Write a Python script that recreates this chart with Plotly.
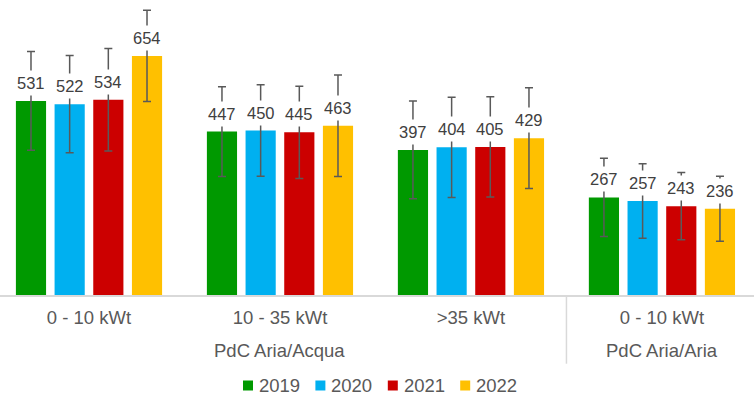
import plotly.graph_objects as go

# --- data ---
classes = ["0 - 10 kWt", "10 - 35 kWt", ">35 kWt", "0 - 10 kWt"]
group_names = ["PdC Aria/Acqua", "PdC Aria/Aria"]
group_members = [[0, 1, 2], [3]]
years = ["2019", "2020", "2021", "2022"]
values = {
    "2019": [531, 447, 397, 267],
    "2020": [522, 450, 404, 257],
    "2021": [534, 445, 405, 243],
    "2022": [654, 463, 429, 236],
}
errors = {
    "2019": [135, 123, 134, 107],
    "2020": [133, 125, 137, 102],
    "2021": [140, 126, 137, 92],
    "2022": [125, 139, 138, 89],
}
colors = {"2019": "#009900", "2020": "#00B0F0", "2021": "#CC0000", "2022": "#FFC000"}

font = "Liberation Sans, Arial, sans-serif"
gray = "#595959"
W, H, B = 754, 396, 101
plot_h = H - B
bargap = 0.19
bargroupgap = 0.22
idx = list(range(len(classes)))

fig = go.Figure()
for yr in years:
    fig.add_trace(go.Bar(
        x=idx, y=values[yr], name=yr, showlegend=False,
        marker=dict(color=colors[yr], line=dict(width=0)),
        error_y=dict(type="data", array=errors[yr], color=gray, thickness=1.5, width=4),
        hovertext=classes, hoverinfo="text+y+name",
    ))

# value labels with white box (hides the error bar behind them, like Excel)
slot = (1 - bargap) / len(years)
for j, yr in enumerate(years):
    off = -(1 - bargap) / 2 + slot * (j + 0.5)
    for i, v in zip(idx, values[yr]):
        fig.add_annotation(x=i + off, y=v, text=str(v), showarrow=False,
                           yanchor="middle", yshift=18, bgcolor="white", borderpad=3,
                           font=dict(family=font, size=16.5, color="#404040"))

# group labels under the category labels, and the divider between groups
for name, members in zip(group_names, group_members):
    fig.add_annotation(x=sum(members) / len(members), y=-55.7 / plot_h, xref="x", yref="paper",
                       text=name, showarrow=False, yanchor="middle",
                       font=dict(family=font, size=18.5, color=gray))
fig.add_shape(type="line", xref="x", yref="paper", x0=2.5, x1=2.5, y0=0, y1=-68.7 / plot_h,
              line=dict(color="#D9D9D9", width=1.5))

# Excel-style compact legend: small square + label
leg_x0, leg_pitch, leg_y = 243, 72.4, 386.5
for k, yr in enumerate(years):
    sx = leg_x0 + k * leg_pitch
    fig.add_shape(type="rect", xref="paper", yref="paper",
                  x0=sx / W, x1=(sx + 10) / W,
                  y0=(plot_h - leg_y - 4) / plot_h, y1=(plot_h - leg_y + 6) / plot_h,
                  fillcolor=colors[yr], line=dict(width=0))
    fig.add_annotation(x=(sx + 14) / W, y=(plot_h - leg_y + 1) / plot_h, xref="paper", yref="paper",
                       text=yr, showarrow=False, xanchor="left", yanchor="middle",
                       font=dict(family=font, size=18.5, color=gray))

fig.update_layout(
    width=W, height=H,
    margin=dict(l=0, r=0, t=0, b=B),
    plot_bgcolor="white", paper_bgcolor="white",
    barmode="group", bargap=bargap, bargroupgap=bargroupgap,
    font=dict(family=font, size=18.5, color=gray),
    showlegend=False,
    xaxis=dict(
        range=[-0.466, 3.482], tickvals=idx, ticktext=classes,
        showline=True, linecolor="#D9D9D9", linewidth=1.5,
        showgrid=False, zeroline=False, ticks="", ticklabelstandoff=5,
        tickfont=dict(family=font, size=18.5, color=gray),
    ),
    yaxis=dict(range=[0, 807], visible=False),
)

fig.write_html("out.html", config={"displayModeBar": False},
               post_script="document.body.style.margin='0';")
